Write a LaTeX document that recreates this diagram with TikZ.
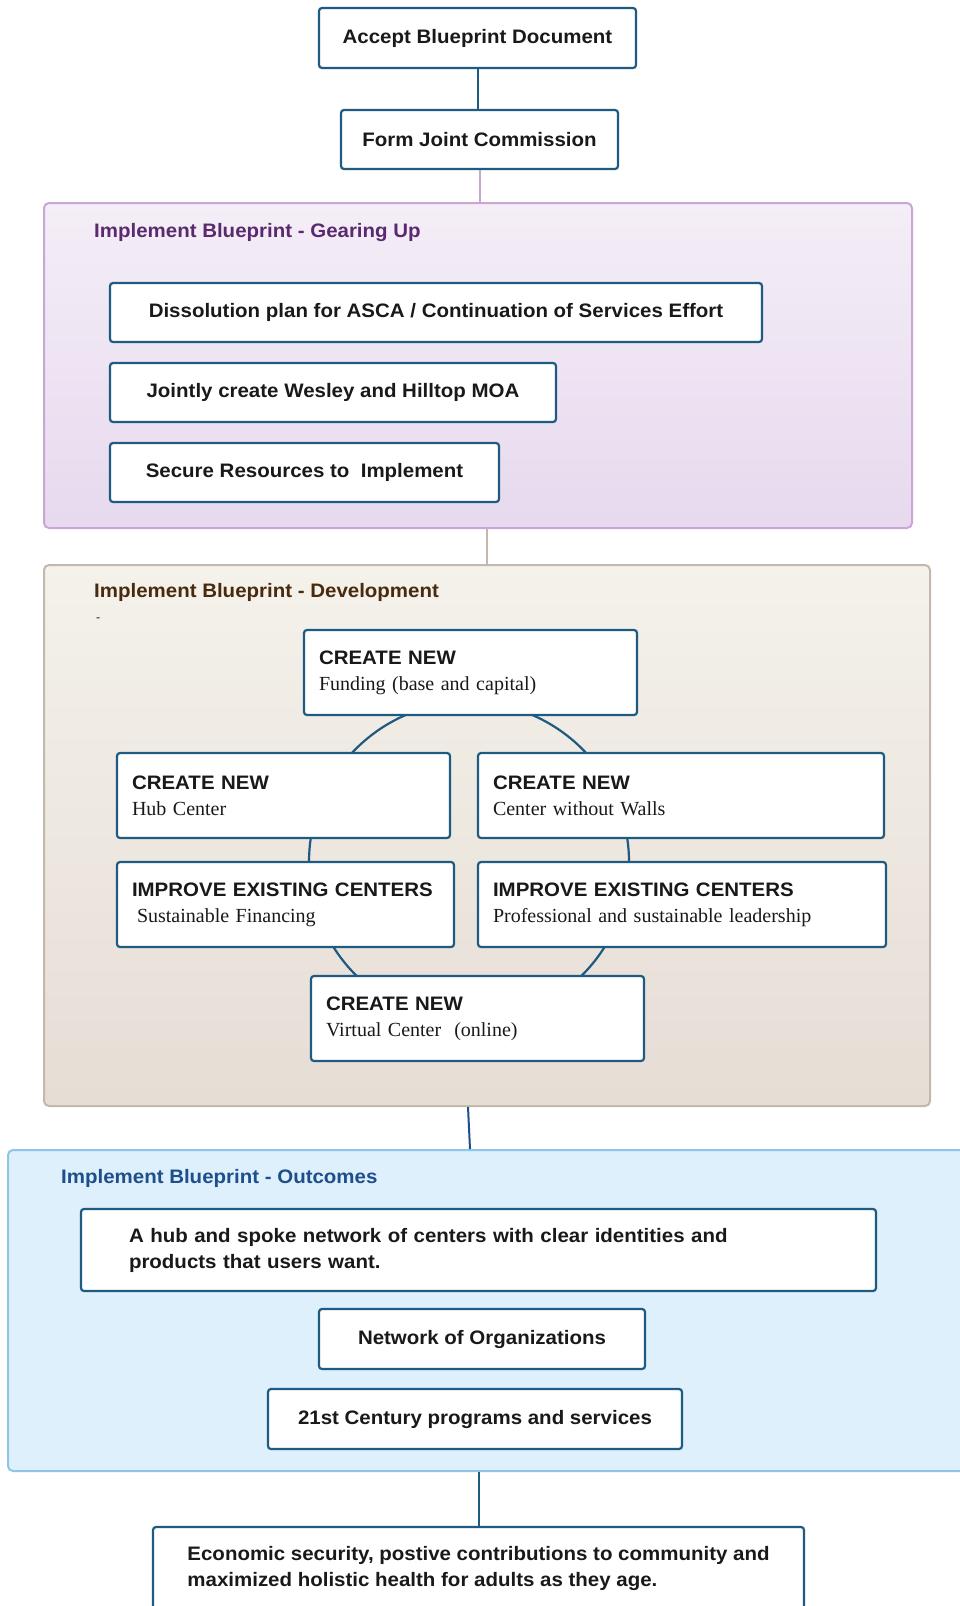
\documentclass[tikz,border=0pt]{standalone}
\usepackage{fontspec}
\setmainfont{Liberation Sans}[FakeStretch=1.05]
\newfontfamily\tnr{Liberation Serif}
\usepackage{tikz}
\usetikzlibrary{positioning}
\definecolor{boxblue}{HTML}{1F5A80}
\definecolor{gearline}{HTML}{C9A6D6}
\definecolor{geartop}{HTML}{F4EEF7}
\definecolor{gearbot}{HTML}{E7D9EE}
\definecolor{gearink}{HTML}{5A2A6E}
\definecolor{devline}{HTML}{C4B8AE}
\definecolor{devtop}{HTML}{F4F2EB}
\definecolor{devbot}{HTML}{E6DDD5}
\definecolor{devink}{HTML}{4A2A0E}
\definecolor{outcline}{HTML}{8EC6E8}
\definecolor{outcfill}{HTML}{DDF0FB}
\definecolor{outcink}{HTML}{1F4E8C}
\newcommand{\subtxt}[1]{{\tnr\mdseries\fontsize{20}{26}\selectfont #1}}

\begin{document}
\begin{tikzpicture}[
  x=1pt, y=-1pt,
  font=\fontsize{19.5}{26}\selectfont\bfseries,
  every node/.style={align=center, text=black!90},
  stepbox/.style={draw=boxblue, line width=2.2pt, fill=white, rounded corners=3pt, inner sep=0pt, minimum height=60pt},
  devbox/.style={stepbox, minimum height=85pt, align=left, inner xsep=15pt},
  panel/.style={line width=2pt, rounded corners=5pt, inner sep=0pt},
  ptitle/.style={anchor=west, inner sep=0pt},
  link/.style={line width=2pt}]

  \useasboundingbox (0,0) rectangle (959,1606);

  % Panels behind the steps
  \node[panel, draw=gearline, top color=geartop, bottom color=gearbot,
        minimum width=868pt, minimum height=325pt] (gearing) at (478,365.5) {};
  \node[panel, draw=devline, top color=devtop, bottom color=devbot,
        minimum width=886pt, minimum height=541pt] (devel) at (487,835.5) {};
  \node[panel, draw=outcline, fill=outcfill,
        minimum width=962pt, minimum height=321pt] (outcomes) at (489,1310.5) {};

  \node[ptitle, text=gearink] (geartitle) at (94,232) {Implement Blueprint - Gearing Up};
  \node[ptitle, text=devink] (devtitle) at (94,592) {Implement Blueprint - Development};
  \node[ptitle, font=\fontsize{12}{12}\selectfont] (devdash) at (96,620) {-};
  \node[ptitle, text=outcink] (outctitle) at (61,1178) {Implement Blueprint - Outcomes};

  % Top steps
  \node[stepbox, minimum width=317pt] (accept) at (477.5,38) {Accept Blueprint Document};
  \node[stepbox, minimum width=277pt, minimum height=59pt] (formjc) at (479.5,139.5) {Form Joint Commission};

  % Gearing up
  \node[stepbox, minimum width=652pt, minimum height=59pt] (dissolution) at (436,312.5)
    {Dissolution plan for ASCA / Continuation of Services Effort};
  \node[stepbox, minimum width=446pt, minimum height=59pt] (moa) at (333,392.5)
    {Jointly create Wesley and Hilltop MOA};
  \node[stepbox, minimum width=389pt, minimum height=59pt] (resources) at (304.5,472.5)
    {Secure Resources to\ \ Implement};

  % Development cycle
  \node[draw=boxblue, line width=2.2pt, circle, minimum size=320pt, inner sep=0pt] (loop) at (469,862) {};
  \node[devbox, minimum width=333pt, text width=303pt] (funding) at (470.5,672.5)
    {CREATE NEW\\\subtxt{Funding (base and capital)}};
  \node[devbox, minimum width=333pt, text width=303pt] (hubc) at (283.5,795.5)
    {CREATE NEW\\\subtxt{Hub Center}};
  \node[devbox, minimum width=406pt, text width=376pt] (cww) at (681,795.5)
    {CREATE NEW\\\subtxt{Center without Walls}};
  \node[devbox, minimum width=337pt, text width=307pt] (sustfin) at (285.5,904.5)
    {IMPROVE EXISTING CENTERS\\\subtxt{\hspace*{5pt}Sustainable Financing}};
  \node[devbox, minimum width=408pt, text width=378pt] (leader) at (682,904.5)
    {IMPROVE EXISTING CENTERS\\\subtxt{Professional and sustainable leadership}};
  \node[devbox, minimum width=333pt, text width=303pt] (virtual) at (477.5,1018.5)
    {CREATE NEW\\\subtxt{Virtual Center\ \ (online)}};

  % Outcomes
  \node[stepbox, minimum width=795pt, minimum height=82pt, align=left, text width=699pt, inner xsep=48pt]
    (hubspoke) at (478.5,1250)
    {A hub and spoke network of centers with clear identities and\\products that users want.};
  \node[stepbox, minimum width=326pt] (network) at (482,1339) {Network of Organizations};
  \node[stepbox, minimum width=414pt] (century) at (475,1419) {21st Century programs and services};
  \node[stepbox, minimum width=651pt, minimum height=82pt, align=left] (economic) at (478.5,1568)
    {Economic security, postive contributions to community and\\maximized holistic health for adults as they age.};

  % Connectors
  \draw[link, boxblue] (accept.south) -- (accept.south |- formjc.north);
  \draw[link, gearline] (formjc.south) -- (formjc.south |- gearing.north);
  \draw[link, devline] (gearing.south -| devel.north) -- (devel.north);
  \draw[link, outcink] ([xshift=-19pt]devel.south) -- ([xshift=-19pt]outcomes.north);
  \draw[link, boxblue] (outcomes.south -| economic.north) -- (economic.north);
\end{tikzpicture}
\end{document}
